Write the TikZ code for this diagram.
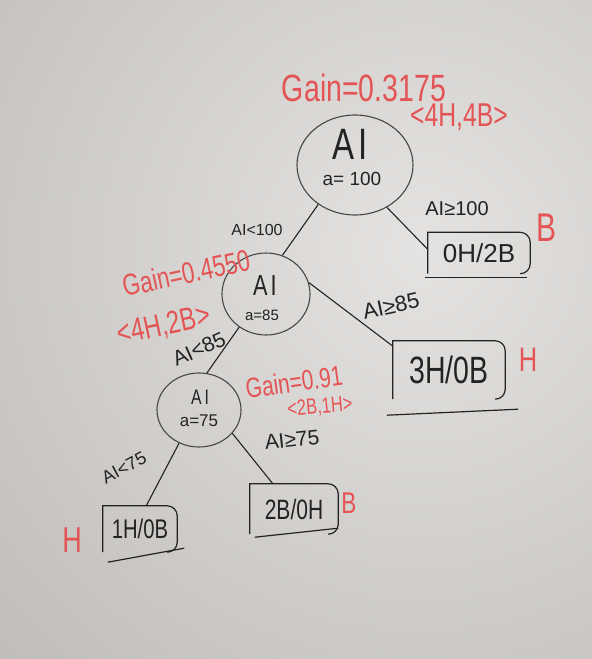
\documentclass[tikz,border=0pt]{standalone}
\usepackage{fontspec}
\newfontfamily\hand[FakeStretch=0.75]{Liberation Sans}
\newfontfamily\handw{Liberation Sans}
\usetikzlibrary{shapes.geometric}
\definecolor{inkc}{RGB}{35,35,35}
\definecolor{circc}{RGB}{70,70,70}
\definecolor{redc}{RGB}{228,84,84}
\definecolor{bgin}{RGB}{229,227,225}
\definecolor{bgout}{RGB}{178,175,172}
\newcommand\myfs[1]{\fontsize{#1}{#1}\selectfont}
\newcommand\leafframe[1]{\draw[boxframe] (#1.south west) -- (#1.north west) -- ([xshift=-10pt]#1.north east) to[out=0,in=90] ([yshift=-10pt]#1.north east) -- ([yshift=10pt]#1.south east) to[out=-90,in=0] ([xshift=-10pt]#1.south east);}
\begin{document}
\begin{tikzpicture}[x=1pt,y=-1pt,
  redlab/.style={text=redc, inner sep=0pt},
  blklab/.style={text=inkc, inner sep=0pt},
  dnode/.style={draw=circc, line width=1.1pt, ellipse, inner sep=0pt},
  leaf/.style={inner sep=0pt, text=inkc},
  boxframe/.style={draw=inkc, line width=1.2pt},
  conn/.style={draw=inkc, line width=1.1pt}
]
\useasboundingbox (0,0) rectangle (592,659);
\begin{scope}
\clip (0,0) rectangle (592,659);
\shade[inner color=bgin, outer color=bgout] (420,250) circle[radius=800];
\end{scope}

% decision nodes
\node[dnode, minimum width=116pt, minimum height=100pt] (root) at (355,165) {};
\node[blklab, font={\hand\myfs{44}}] (rootA) at (350,144) {A\hspace{4pt}I};
\node[blklab, font={\handw\myfs{19}}] (roota) at (352,179) {a= 100};

\node[dnode, minimum width=88pt, minimum height=82pt] (n85) at (266,294) {};
\node[blklab, font={\hand\myfs{29}}] (n85A) at (265,286) {A\hspace{3pt}I};
\node[blklab, font={\handw\myfs{15}}] (n85a) at (262,315) {a=85};

\node[dnode, minimum width=84pt, minimum height=74pt] (n75) at (199,410) {};
\node[blklab, font={\hand\myfs{21}}] (n75A) at (200,397) {A\hspace{3pt}I};
\node[blklab, font={\handw\myfs{17}}] (n75a) at (199,421) {a=75};

% leaves
\node[leaf, minimum width=102pt, minimum height=41pt, font={\handw\myfs{26}}] (b1) at (479,253) {0H/2B};
\node[leaf, minimum width=112pt, minimum height=58pt, font={\hand\myfs{38}}] (b2) at (449,370) {3H/0B\hspace{18pt}};
\node[leaf, minimum width=74pt, minimum height=46pt, font={\hand\myfs{27}}] (b3) at (140,529) {1H/0B};
\node[leaf, minimum width=88pt, minimum height=50pt, font={\hand\myfs{28}}] (b4) at (294,509) {2B/0H};

\leafframe{b1}
\leafframe{b2}
\leafframe{b3}
\leafframe{b4}
\draw[boxframe] ([xshift=-3pt,yshift=-4pt]b1.south west) -- ([xshift=-3pt,yshift=-4pt]b1.south east);
\draw[boxframe] ([xshift=-6pt,yshift=-16pt]b2.south west) -- ([xshift=13pt,yshift=-10pt]b2.south east);
\draw[boxframe] ([xshift=5pt,yshift=-10pt]b3.south west) -- ([xshift=7pt,yshift=4pt]b3.south east);
\draw[boxframe] ([xshift=5pt,yshift=-3pt]b4.south west) -- ([xshift=0pt,yshift=6pt]b4.south east);

% connectors
\draw[conn] (root.227) -- (n85.67);
\draw[conn] (root.307) -- (b1.176);
\draw[conn] (n85.15) -- (b2.157);
\draw[conn] (n85.231) -- (n75.78);
\draw[conn] (n75.239) -- (b3.75);
\draw[conn] (n75.325) -- (b4.130);

% labels
\node[redlab, font={\hand\myfs{38}}] (g1) at (364,88) {Gain=0.3175};
\node[redlab, font={\hand\myfs{33}}] (c1) at (459,117) {<4H,4B>};
\node[blklab, font={\handw\myfs{16}}] (l1) at (257,230) {AI<100};
\node[blklab, font={\handw\myfs{20}}] (l2) at (457,209) {AI≥100};
\node[redlab, font={\hand\myfs{40}}] (r1) at (546,228) {B};
\node[redlab, font={\hand\myfs{30}}, rotate=12] (g2) at (186,273) {Gain=0.4550};
\node[redlab, font={\hand\myfs{32}}, rotate=12] (c2) at (164,326) {<4H,2B>};
\node[blklab, font={\handw\myfs{21}}, rotate=24] (l3) at (199,349) {AI<85};
\node[blklab, font={\handw\myfs{22}}, rotate=12] (l4) at (391,306) {AI≥85};
\node[redlab, font={\hand\myfs{34}}] (r2) at (528,360) {H};
\node[redlab, font={\hand\myfs{28}}, rotate=8] (g3) at (294,382) {Gain=0.91};
\node[redlab, font={\hand\myfs{22}}, rotate=5] (c3) at (320,407) {<2B,1H>};
\node[blklab, font={\handw\myfs{21}}, rotate=6] (l5) at (292,440) {AI≥75};
\node[blklab, font={\handw\myfs{18}}, rotate=28] (l6) at (124,468) {AI<75};
\node[redlab, font={\hand\myfs{36}}] (r3) at (72,540) {H};
\node[redlab, font={\hand\myfs{30}}] (r4) at (349,503) {B};
\end{tikzpicture}
\end{document}
